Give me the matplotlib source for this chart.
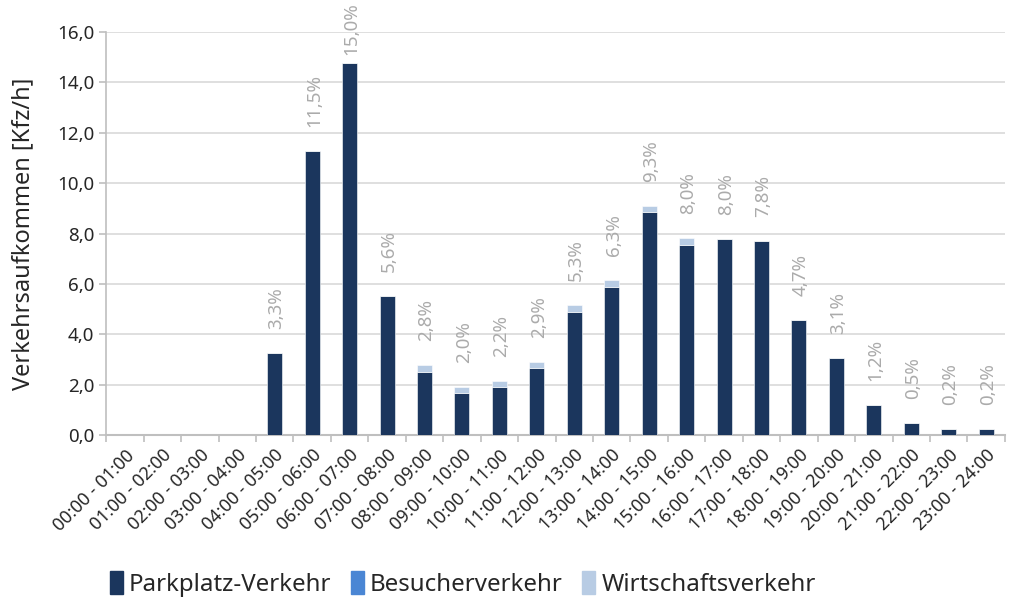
import numpy as np
import matplotlib.pyplot as plt
from matplotlib.patches import Patch

hours = ["00:00 - 01:00", "01:00 - 02:00", "02:00 - 03:00", "03:00 - 04:00",
         "04:00 - 05:00", "05:00 - 06:00", "06:00 - 07:00", "07:00 - 08:00",
         "08:00 - 09:00", "09:00 - 10:00", "10:00 - 11:00", "11:00 - 12:00",
         "12:00 - 13:00", "13:00 - 14:00", "14:00 - 15:00", "15:00 - 16:00",
         "16:00 - 17:00", "17:00 - 18:00", "18:00 - 19:00", "19:00 - 20:00",
         "20:00 - 21:00", "21:00 - 22:00", "22:00 - 23:00", "23:00 - 24:00"]

parkplatz = [0.0, 0.0, 0.0, 0.0, 3.25, 11.27, 14.76, 5.52, 2.50, 1.67, 1.90, 2.66,
             4.88, 5.90, 8.85, 7.54, 7.80, 7.70, 4.56, 3.06, 1.19, 0.48, 0.24, 0.24]
besucher = [0.0] * 24
wirtschaft = [0.0, 0.0, 0.0, 0.0, 0.0, 0.0, 0.0, 0.0, 0.28, 0.23, 0.24, 0.24,
              0.28, 0.25, 0.24, 0.28, 0.0, 0.0, 0.0, 0.0, 0.0, 0.0, 0.0, 0.0]
anteil = ["", "", "", "", "3,3%", "11,5%", "15,0%", "5,6%", "2,8%", "2,0%", "2,2%", "2,9%",
          "5,3%", "6,3%", "9,3%", "8,0%", "8,0%", "7,8%", "4,7%", "3,1%", "1,2%", "0,5%",
          "0,2%", "0,2%"]

c_park = "#1b365d"
c_bes = "#4a86d4"
c_wirt = "#b8cce4"
grey = "#ababab"
dark = "#262626"

plt.rcParams['font.family'] = ['Noto Sans', 'DejaVu Sans']

fig = plt.figure(figsize=(10.12, 6.02), dpi=100)
ax = fig.add_axes([0.105, 0.277, 0.888, 0.670])

x = np.arange(len(hours))
p = np.array(parkplatz)
b = np.array(besucher)
w = np.array(wirtschaft)
ax.bar(x, p, 0.4, color=c_park, edgecolor="white", linewidth=0.4, zorder=3)
ax.bar(x, b, 0.4, bottom=p, color=c_bes, zorder=3)
ax.bar(x, w, 0.4, bottom=p + b, color=c_wirt, edgecolor="white", linewidth=0.4, zorder=3)

# share labels above each stack, kept inside the figure for the tallest bar
total = p + b + w
for i, lab in enumerate(anteil):
    if lab:
        y = min(total[i] + 0.95, 15.1)
        ax.text(x[i] + 0.05, y, lab, rotation=90, ha="center", va="bottom",
                color=grey, fontsize=13.5, fontweight="light", clip_on=False)

ax.set_xlim(-0.5, len(hours) - 0.5)
ax.set_ylim(0, 16)
yt = np.arange(0, 16.1, 2)
ax.set_yticks(yt)
ax.set_yticklabels([f"{v:.1f}".replace(".", ",") for v in yt], fontsize=13.5)
ax.set_ylabel("Verkehrsaufkommen [Kfz/h]", fontsize=17, color=dark, labelpad=16)

# category labels centred on bars, ticks drawn at the bin edges
ax.set_xticks(x)
ax.set_xticklabels(hours, rotation=45, ha="right", rotation_mode="anchor", fontsize=12.8)
ax.tick_params(axis="x", length=0, pad=8, colors=dark)
ax.set_xticks(np.arange(-0.5, len(hours)), minor=True)
ax.tick_params(axis="x", which="minor", length=5, color="#bfbfbf", width=1.2)
ax.tick_params(axis="y", length=5, width=1.2, colors=dark)
ax.tick_params(axis="y", which="major", color="#bfbfbf")

ax.grid(axis="y", color="#d9d9d9", linewidth=1.2, zorder=0)
for s in ["top", "right"]:
    ax.spines[s].set_visible(False)
ax.spines["left"].set_color("#bfbfbf")
ax.spines["bottom"].set_color("#bfbfbf")
ax.spines["left"].set_linewidth(1.2)
ax.spines["bottom"].set_linewidth(1.5)

handles = [Patch(color=c_park, label="Parkplatz-Verkehr"),
           Patch(color=c_bes, label="Besucherverkehr"),
           Patch(color=c_wirt, label="Wirtschaftsverkehr")]
leg = fig.legend(handles=handles, loc="center left", bbox_to_anchor=(0.099, 0.03), ncol=3,
                 frameon=False, fontsize=17.3, handlelength=0.55, handleheight=1.1,
                 handletextpad=0.25, columnspacing=0.8, borderaxespad=0)
for t in leg.get_texts():
    t.set_color(dark)

fig.savefig("out.png", dpi=100)
